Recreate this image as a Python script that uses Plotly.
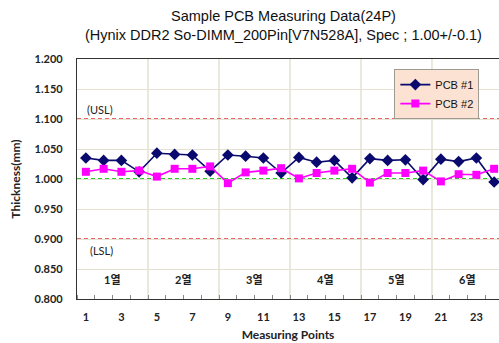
import plotly.graph_objects as go

# Measuring points and thickness readings (mm)
points = list(range(1, 25))
pcb1 = [1.035, 1.031, 1.031, 1.012, 1.043, 1.041, 1.040, 1.013, 1.040, 1.038, 1.035, 1.010,
        1.036, 1.028, 1.031, 1.002, 1.034, 1.031, 1.032, 0.999, 1.033, 1.029, 1.035, 0.995]
pcb2 = [1.012, 1.017, 1.012, 1.014, 1.004, 1.017, 1.017, 1.021, 0.993, 1.011, 1.014, 1.018,
        1.001, 1.010, 1.014, 1.017, 0.994, 1.010, 1.010, 1.014, 0.996, 1.008, 1.007, 1.017]
group_names = ["1열", "2열", "3열", "4열", "5열", "6열"]
points_per_group = 4
spec_nominal = 1.00
spec_usl = 1.10
spec_lsl = 0.90
x_ticks = list(range(1, 24, 2))
y_ticks = [0.80, 0.85, 0.90, 0.95, 1.00, 1.05, 1.10, 1.15, 1.20]

LABEL_FONT = "Lato, 'Noto Sans CJK KR', sans-serif"
TITLE_FONT = "'Liberation Sans', Arial, sans-serif"

fig = go.Figure()

fig.add_trace(go.Scatter(
    x=points, y=pcb1, name="PCB #1", mode="lines+markers",
    line=dict(color="#0a0a6e", width=1.6),
    marker=dict(symbol="diamond", size=9, color="#0a0a6e"),
))
fig.add_trace(go.Scatter(
    x=points, y=pcb2, name="PCB #2", mode="lines+markers",
    line=dict(color="#ff00ff", width=1.6),
    marker=dict(symbol="square", size=8, color="#ff00ff"),
))

shapes = []
# group separators
for k in range(1, len(group_names)):
    xb = k * points_per_group + 0.5
    shapes.append(dict(type="line", xref="x", yref="paper", x0=xb, x1=xb, y0=0, y1=1,
                       line=dict(color="#ddd8c4", width=1.2), layer="below"))
# spec limits
for val, col in [(spec_usl, "#e8303a"), (spec_lsl, "#e8303a"), (spec_nominal, "#22cc22")]:
    shapes.append(dict(type="line", xref="paper", yref="y", x0=0, x1=1, y0=val, y1=val,
                       line=dict(color=col, width=2 if col == "#22cc22" else 1.3,
                                 dash="4px,3px"), layer="below"))
fig.update_layout(shapes=shapes)

annotations = [
    dict(x=0.02, y=spec_usl, xref="paper", yref="y", text="(USL)", showarrow=False,
         xanchor="left", yanchor="bottom", yshift=1,
         font=dict(family=LABEL_FONT, size=11, color="#222")),
    dict(x=0.025, y=spec_lsl, xref="paper", yref="y", text="(LSL)", showarrow=False,
         xanchor="left", yanchor="top", yshift=-3,
         font=dict(family=LABEL_FONT, size=11, color="#222")),
]
for i, g in enumerate(group_names):
    cx = i * points_per_group + (points_per_group + 1) / 2
    annotations.append(dict(x=cx, y=0.832, xref="x", yref="y", text=f"<b>{g}</b>",
                            showarrow=False,
                            font=dict(family=LABEL_FONT, size=11, color="#222")))
annotations.append(dict(
    x=0.49, y=1, xref="paper", yref="paper", xanchor="center", yanchor="bottom", yshift=14,
    text="Sample PCB Measuring Data(24P)<br>(Hynix DDR2 So-DIMM_200Pin[V7N528A], Spec ; 1.00+/-0.1)",
    showarrow=False, font=dict(family=TITLE_FONT, size=14.5, color="#111")))
fig.update_layout(annotations=annotations)

fig.update_layout(
    width=499, height=343,
    margin=dict(l=77, r=0, t=59, b=44),
    paper_bgcolor="white", plot_bgcolor="white",
    showlegend=True,
    legend=dict(x=0.752, y=0.958, xanchor="left", yanchor="top",
                bgcolor="#fbe2d2", bordercolor="#a09a94", borderwidth=1,
                font=dict(family=TITLE_FONT, size=11, color="#111"),
                tracegroupgap=0, itemwidth=30),
    xaxis=dict(
        range=[0.5, 0.5 + (499 - 77) / 17.75],
        tickmode="array", tickvals=x_ticks, ticktext=[f"<b>{v}</b>" for v in x_ticks],
        tickfont=dict(family=LABEL_FONT, size=11, color="#222"),
        showgrid=False, zeroline=False,
        showline=True, linecolor="#333", linewidth=1.2, mirror=True,
        ticks="", ticklabelstandoff=8,
        minor=dict(tickvals=[v + 0.5 for v in range(0, 25)], ticks="inside", ticklen=4,
                   tickcolor="#888", showgrid=False),
        title=dict(text="<b>Measuring Points</b>", standoff=8,
                   font=dict(family=LABEL_FONT, size=12, color="#222")),
    ),
    yaxis=dict(
        range=[0.8, 1.2],
        tickmode="array", tickvals=y_ticks, ticktext=[f"<b>{v:.3f}</b>" for v in y_ticks],
        tickfont=dict(family=LABEL_FONT, size=11, color="#222"),
        showgrid=True, gridcolor="#e4e0d2", gridwidth=1, zeroline=False,
        showline=True, linecolor="#333", linewidth=1.2,
        ticks="", ticklabelstandoff=11,
        title=dict(text="<b>Thickness(mm)</b>", standoff=11,
                   font=dict(family=LABEL_FONT, size=12, color="#222")),
    ),
)

fig.write_html("out.html")
